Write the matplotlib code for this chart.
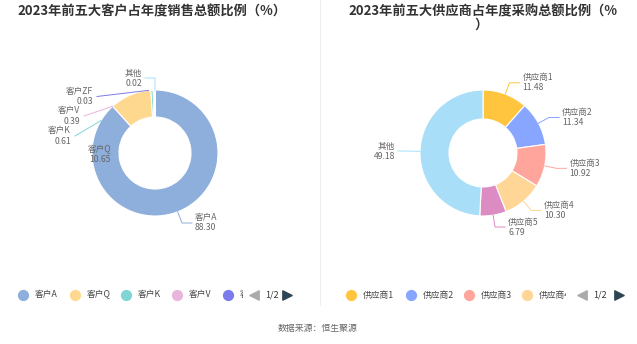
import numpy as np
import matplotlib.pyplot as plt
from matplotlib.transforms import Bbox, TransformedBbox

plt.rcParams['font.family'] = ['Noto Sans CJK SC', 'DejaVu Sans']

W, H = 637, 344

# data
customers = ['客户A', '客户Q', '客户K', '客户V', '客户ZF', '其他']
customer_share = [88.30, 10.65, 0.61, 0.39, 0.03, 0.02]
customer_colors = ['#8eaedc', '#ffd890', '#80d6d4', '#eab5da', '#7b7bec', '#a9def9']

suppliers = ['供应商1', '供应商2', '供应商3', '供应商4', '供应商5', '其他']
supplier_share = [11.48, 11.34, 10.92, 10.30, 6.79, 49.18]
supplier_colors = ['#ffc53f', '#88a6ff', '#ffa59c', '#ffd696', '#dc8bc3', '#a9def9']

left_title = '2023年前五大客户占年度销售总额比例（%）'
right_title = '2023年前五大供应商占年度采购总额比例（%'
source = '数据来源：恒生聚源'

# moved labels on the crowded left chart: (text x, text y, edge angle)
left_moved = {
    '客户Q': (111, 155, None),
    '客户K': (71, 136, -59),
    '客户V': (80, 116, -42),
    '客户ZF': (93, 96.5, -6),
}


def py(y):
    # pixel row (from top) -> data y
    return H - y


def donut(ax, vals, colors, cx, cy, r, hole):
    wedges, _ = ax.pie(vals, colors=colors, radius=r, center=(cx, py(cy)),
                       startangle=90, counterclock=False,
                       wedgeprops=dict(width=r - hole, edgecolor='white', linewidth=0.8))
    return wedges


def put_label(ax, x, y, name, val, ha):
    ax.text(x, py(y - 5), name, ha=ha, va='center', fontsize=6.2, color='#666666')
    ax.text(x, py(y + 5), '%.2f' % val, ha=ha, va='center', fontsize=6.2, color='#666666')


def slice_labels(ax, wedges, names, vals, colors, cx, cy, r, moved=None):
    moved = moved or {}
    for w, n, v, c in zip(wedges, names, vals, colors):
        if n in moved:
            tx, ty, edge = moved[n]
            put_label(ax, tx, ty, n, v, 'right')
            if edge is not None:
                a = np.deg2rad(edge)
                ex, ey = cx + r * np.sin(a), cy - r * np.cos(a)
                ax.plot([tx + 4, ex], [py(ty), py(ey)], color=c, lw=0.7)
            continue
        ang = np.deg2rad((w.theta1 + w.theta2) / 2)
        ux, uy = np.cos(ang), np.sin(ang)
        x0, y0 = cx + r * ux, py(cy) + r * uy
        x1, y1 = cx + (r + 12) * ux, py(cy) + (r + 12) * uy
        side = 1 if ux >= 0 else -1
        x2 = x1 + 10 * side
        ax.plot([x0, x1, x2], [y0, y1, y1], color=c, lw=0.7)
        put_label(ax, x2 + 3 * side, H - y1, n, v, 'left' if side > 0 else 'right')


def legend(ax, names, colors, xs, clip_x, arrows_x):
    y = py(295)
    box = TransformedBbox(Bbox([[0, 0], [clip_x, H]]), ax.transData)
    for n, c, x in zip(names, colors, xs):
        ax.scatter([x], [y], s=50, color=c, zorder=3)
        t = ax.text(x + 12, y, n, ha='left', va='center', fontsize=6.3, color='#444444')
        t.set_clip_path(None)
        t.set_clip_box(box)
        t.set_clip_on(True)
    ax.scatter([arrows_x[0]], [y], marker='<', s=45, color='#aaaaaa')
    ax.text(arrows_x[1], y, '1/2', ha='center', va='center', fontsize=6.5, color='#333333')
    ax.scatter([arrows_x[2]], [y], marker='>', s=45, color='#2f4554')


fig = plt.figure(figsize=(6.37, 3.44), dpi=100)
ax = fig.add_axes([0, 0, 1, 1])

lw = donut(ax, customer_share, customer_colors, 155, 153, 63, 36)
rw = donut(ax, supplier_share, supplier_colors, 483, 153, 63, 34)

slice_labels(ax, lw, customers, customer_share, customer_colors, 155, 153, 63, left_moved)
slice_labels(ax, rw, suppliers, supplier_share, supplier_colors, 483, 153, 63)

ax.set_xlim(0, W)
ax.set_ylim(0, H)
ax.set_aspect('equal')
ax.axis('off')

legend(ax, customers[:5], customer_colors[:5], [23, 75, 126, 177, 228], 243, [254, 272, 287])
legend(ax, suppliers[:4], supplier_colors[:4], [351, 411, 469, 527], 566, [582, 600, 619])

ax.plot([320, 320], [py(0), py(305)], color='#eeeeee', lw=0.8)

ax.text(152, py(11), left_title, ha='center', va='center', fontsize=9.5,
        fontweight='bold', color='#333333')
ax.text(483, py(11), right_title, ha='center', va='center', fontsize=9.5,
        fontweight='bold', color='#333333')
ax.text(481, py(25), '）', ha='center', va='center', fontsize=9.5,
        fontweight='bold', color='#333333')
ax.text(318, py(328), source, ha='center', va='center', fontsize=6.4, color='#666666')

fig.savefig('out.png', dpi=100)
